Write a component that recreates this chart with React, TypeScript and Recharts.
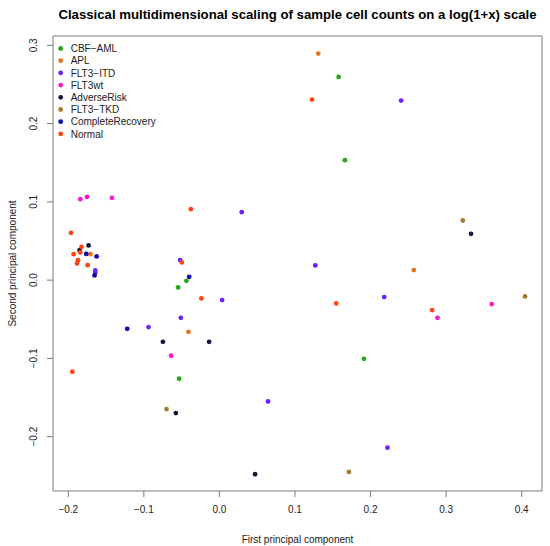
import React from 'react';
import { ScatterChart, Scatter, XAxis, YAxis, ReferenceArea, Label } from 'recharts';

type Pt = { x: number; y: number };

// values
const cbfAml: Pt[] = [
  { x: 0.1578, y: 0.2595 }, { x: 0.1661, y: 0.1532 }, { x: -0.0436, y: -0.0009 },
  { x: -0.0546, y: -0.0093 }, { x: -0.0533, y: -0.126 }, { x: 0.1912, y: -0.1005 },
];
const apl: Pt[] = [
  { x: 0.1308, y: 0.2894 }, { x: -0.1705, y: 0.0332 }, { x: -0.041, y: -0.066 }, { x: 0.2573, y: 0.0128 },
];
const flt3Itd: Pt[] = [
  { x: 0.2405, y: 0.2294 }, { x: 0.0296, y: 0.0868 }, { x: -0.1643, y: 0.0124 }, { x: -0.1643, y: 0.0095 },
  { x: -0.0519, y: 0.0255 }, { x: 0.0036, y: -0.0255 }, { x: -0.051, y: -0.0481 }, { x: -0.0938, y: -0.06 },
  { x: 0.0644, y: -0.1549 }, { x: 0.2224, y: -0.2141 }, { x: 0.1269, y: 0.0188 }, { x: 0.2181, y: -0.0217 },
];
const flt3Wt: Pt[] = [
  { x: -0.1841, y: 0.1034 }, { x: -0.1752, y: 0.1063 }, { x: -0.1422, y: 0.1051 },
  { x: -0.0638, y: -0.0966 }, { x: 0.2886, y: -0.0481 }, { x: 0.3604, y: -0.0306 },
];
const adverseRisk: Pt[] = [
  { x: -0.185, y: 0.0383 }, { x: -0.1731, y: 0.0443 }, { x: -0.0748, y: -0.0788 }, { x: -0.0136, y: -0.0788 },
  { x: -0.0576, y: -0.1698 }, { x: 0.0472, y: -0.248 }, { x: 0.333, y: 0.0591 },
];
const flt3Tkd: Pt[] = [
  { x: -0.07, y: -0.1647 }, { x: 0.1714, y: -0.245 }, { x: 0.3221, y: 0.0762 }, { x: 0.4044, y: -0.0208 },
];
const completeRecovery: Pt[] = [
  { x: -0.1762, y: 0.0336 }, { x: -0.1625, y: 0.0303 }, { x: -0.1652, y: 0.006 }, { x: -0.04, y: 0.0042 },
  { x: -0.122, y: -0.0622 },
];
const normal: Pt[] = [
  { x: 0.1225, y: 0.2307 }, { x: -0.1964, y: 0.0604 }, { x: -0.1824, y: 0.0425 }, { x: -0.1841, y: 0.0354 },
  { x: -0.1929, y: 0.0332 }, { x: -0.1871, y: 0.0255 }, { x: -0.1884, y: 0.0213 }, { x: -0.1744, y: 0.0191 },
  { x: -0.0378, y: 0.0906 }, { x: -0.0497, y: 0.0226 }, { x: -0.0238, y: -0.0234 }, { x: -0.1947, y: -0.117 },
  { x: 0.1546, y: -0.0297 }, { x: 0.2815, y: -0.0383 },
];

const SERIES = [
  { name: 'CBF\u2212AML', color: '#24a81c', data: cbfAml },
  { name: 'APL', color: '#ec7212', data: apl },
  { name: 'FLT3\u2212ITD', color: '#6a22ff', data: flt3Itd },
  { name: 'FLT3wt', color: '#ff17d0', data: flt3Wt },
  { name: 'AdverseRisk', color: '#16183a', data: adverseRisk },
  { name: 'FLT3\u2212TKD', color: '#a67c2c', data: flt3Tkd },
  { name: 'CompleteRecovery', color: '#0c0cae', data: completeRecovery },
  { name: 'Normal', color: '#ff4412', data: normal },
];

const X_TICKS = [-0.2, -0.1, 0, 0.1, 0.2, 0.3, 0.4];
const Y_TICKS = [-0.2, -0.1, 0, 0.1, 0.2, 0.3];
const X_DOMAIN: [number, number] = [-0.2202, 0.4269];
const Y_DOMAIN: [number, number] = [-0.2694, 0.3119];

const FONT = '"Liberation Sans", Arial, Helvetica, sans-serif';
const AXIS_GREY = '#7a7a7a';

const fmt = (v: number) => (v < 0 ? '\u2212' : '') + Math.abs(v).toFixed(1);

const YTick = (props: any) => {
  const { x, y, payload } = props;
  return (
    <text
      x={0}
      y={0}
      transform={`translate(${x},${y}) rotate(-90)`}
      textAnchor="middle"
      fontSize={10}
      fill="#222"
      fontFamily={FONT}
    >
      {fmt(payload.value)}
    </text>
  );
};

export default function App() {
  return (
    <div style={{ position: 'absolute', left: 0, top: 0, width: 550, height: 546, background: '#fff', fontFamily: FONT }}>
      <ScatterChart width={550} height={546} margin={{ top: 36, right: 8, bottom: 0, left: 0 }}>
        <XAxis
          dataKey="x"
          type="number"
          domain={X_DOMAIN}
          ticks={X_TICKS}
          interval={0}
          allowDataOverflow
          height={55}
          tickSize={6}
          tickMargin={9}
          axisLine={false}
          tickLine={{ stroke: AXIS_GREY }}
          tick={{ fontSize: 10, fill: '#222', fontFamily: FONT }}
          tickFormatter={fmt}
        >
          <Label value="First principal component" position="insideBottom" offset={3} fontSize={10} fill="#222" fontFamily={FONT} />
        </XAxis>
        <YAxis
          dataKey="y"
          type="number"
          domain={Y_DOMAIN}
          ticks={Y_TICKS}
          interval={0}
          allowDataOverflow
          width={53}
          tickSize={6}
          tickMargin={10}
          axisLine={false}
          tickLine={{ stroke: AXIS_GREY }}
          tick={<YTick />}
        >
          <Label
            value="Second principal component"
            position="insideLeft"
            angle={-90}
            offset={12}
            fontSize={10}
            fill="#222"
            fontFamily={FONT}
            style={{ textAnchor: 'middle' }}
          />
        </YAxis>
        <ReferenceArea
          x1={X_DOMAIN[0]}
          x2={X_DOMAIN[1]}
          y1={Y_DOMAIN[0]}
          y2={Y_DOMAIN[1]}
          fill="none"
          stroke={AXIS_GREY}
          strokeWidth={1}
          ifOverflow="visible"
        />
        {SERIES.map((s) => (
          <Scatter
            key={s.name}
            name={s.name}
            data={s.data}
            isAnimationActive={false}
            shape={(p: any) => <circle cx={p.cx} cy={p.cy} r={2.4} fill={s.color} />}
          />
        ))}
      </ScatterChart>
      <svg width={550} height={546} style={{ position: 'absolute', left: 0, top: 0, pointerEvents: 'none' }}>
        <text x={297.5} y={18.8} textAnchor="middle" fontSize={13.2} fontWeight="bold" fontFamily={FONT} fill="#000">
          Classical multidimensional scaling of sample cell counts on a log(1+x) scale
        </text>
        {SERIES.map((s, i) => (
          <g key={s.name}>
            <circle cx={60.7} cy={48.5 + i * 12.2} r={2.4} fill={s.color} />
            <text x={70.7} y={48.5 + i * 12.2 + 3.6} fontSize={10} fontFamily={FONT} fill="#222">
              {s.name}
            </text>
          </g>
        ))}
      </svg>
    </div>
  );
}
